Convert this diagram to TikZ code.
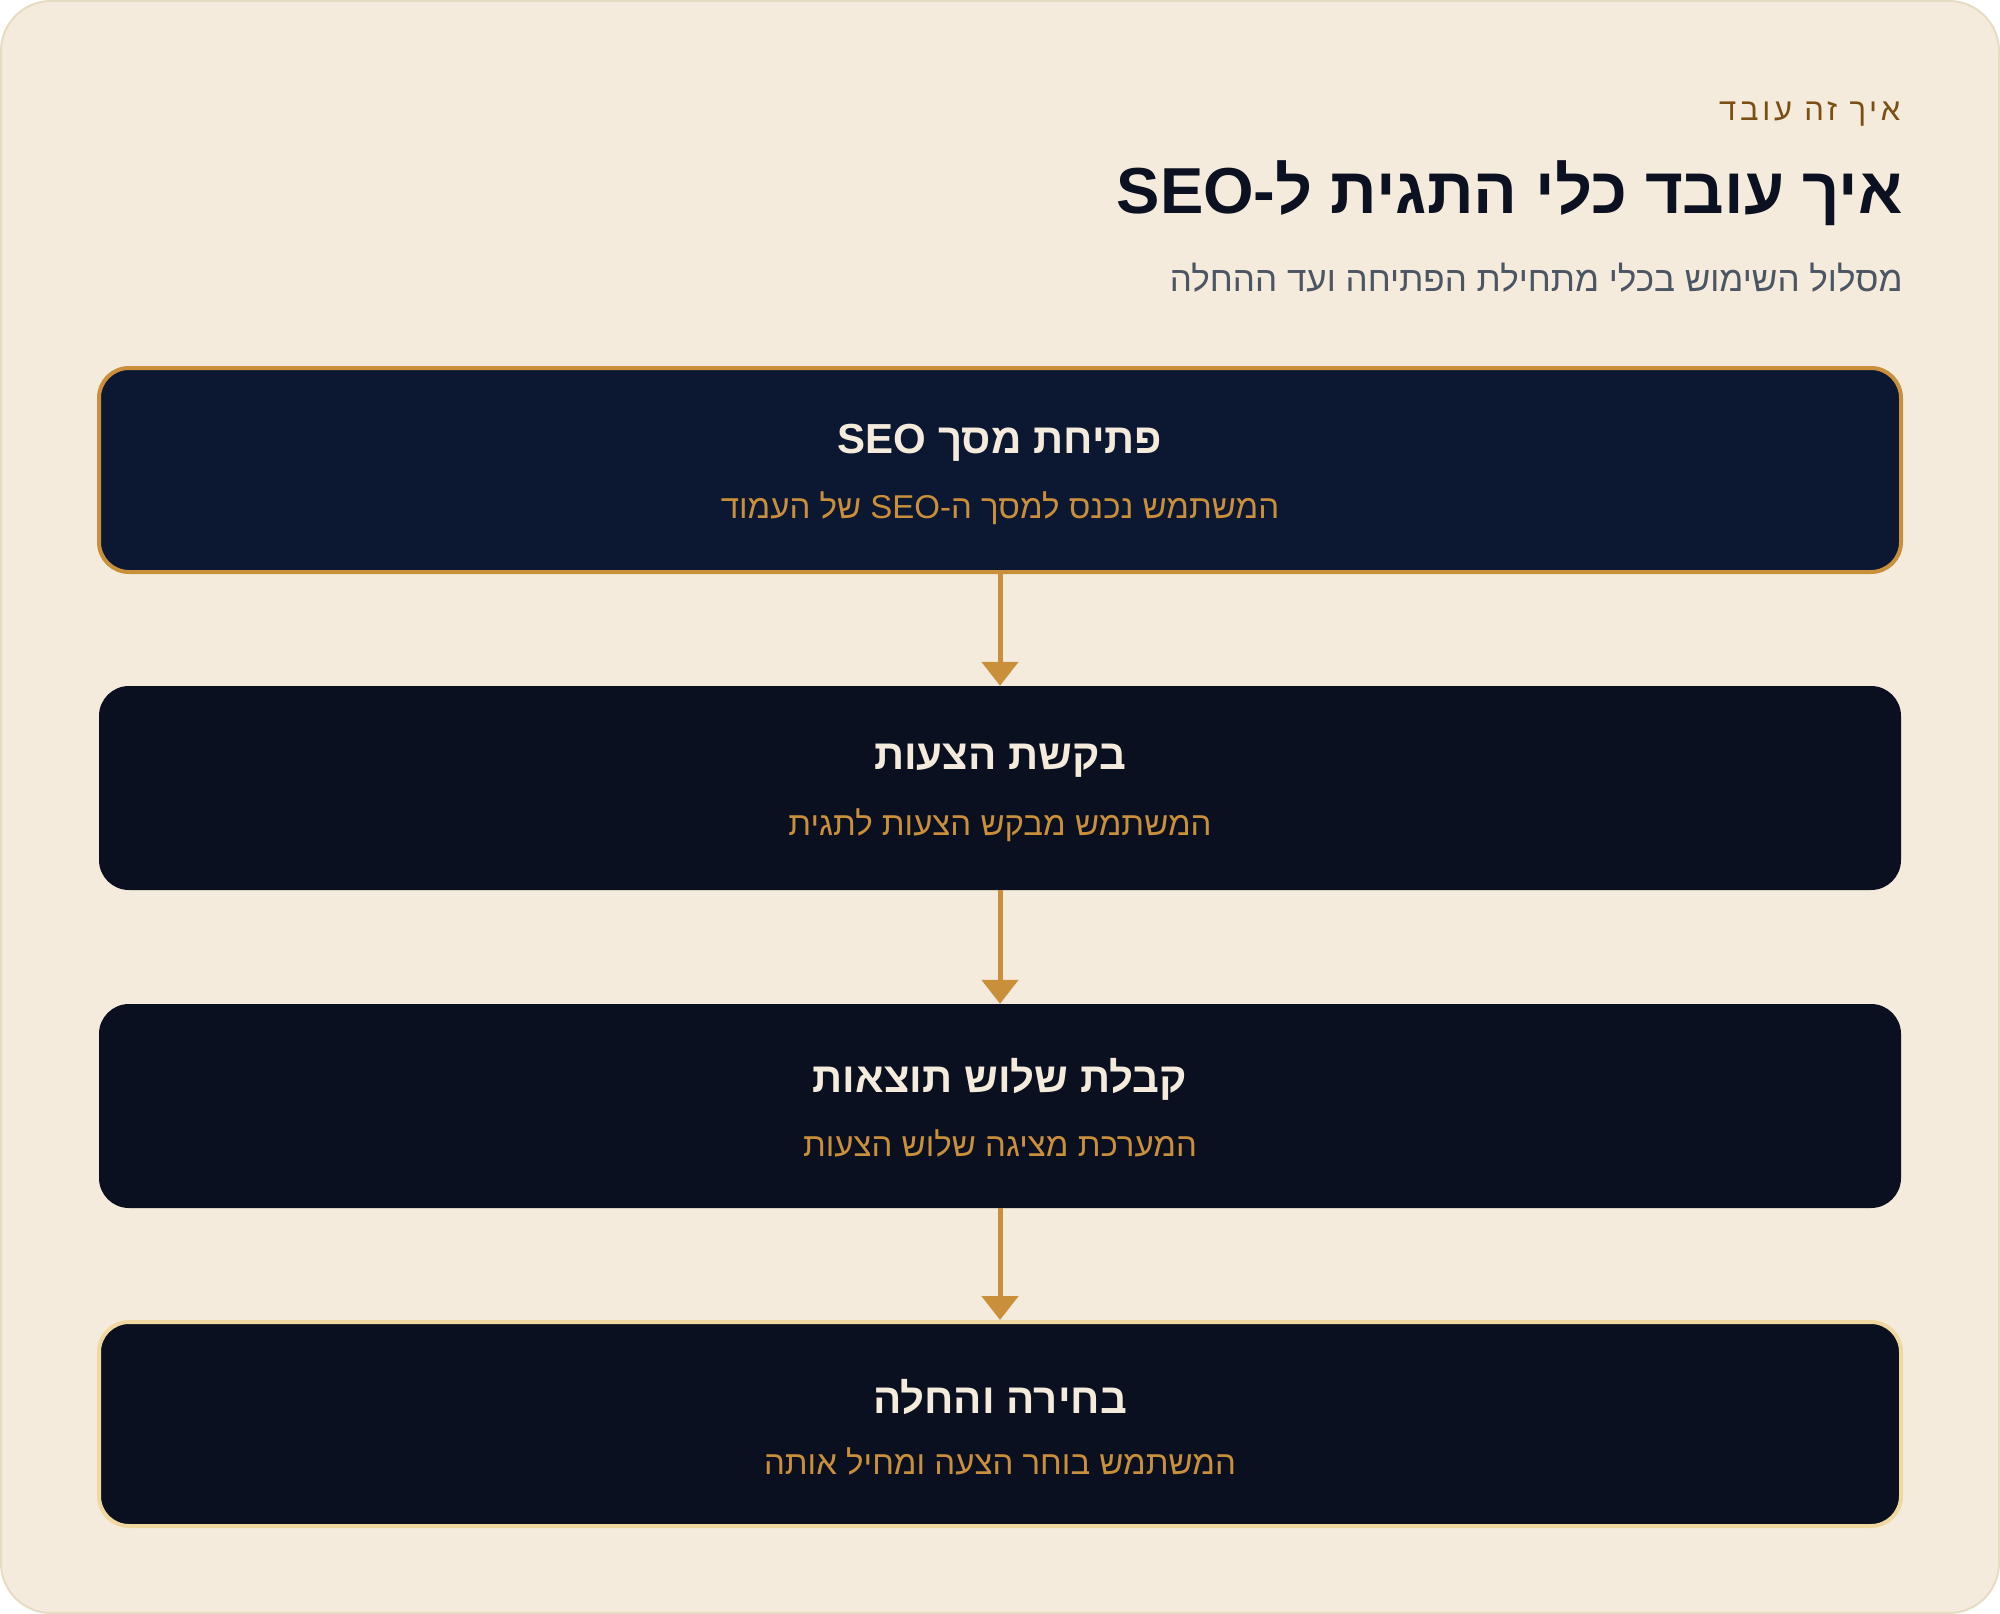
\documentclass[tikz,border=0pt]{standalone}
\usepackage{fontspec}
\usetikzlibrary{arrows.meta}
\TeXXeTstate=1
\newfontfamily\hebfont[Script=Hebrew]{Liberation Sans}
\newfontfamily\hebspaced[Script=Hebrew,LetterSpace=12]{Liberation Sans}

\definecolor{paper}{HTML}{F4EBDC}
\definecolor{paperline}{HTML}{E6DCC4}
\definecolor{ink}{HTML}{0B1120}
\definecolor{muted}{HTML}{4B5563}
\definecolor{brownish}{HTML}{7A4F14}
\definecolor{gold}{HTML}{C98F3A}
\definecolor{palegold}{HTML}{F0D8A0}
\definecolor{cream}{HTML}{F4EBDC}
\definecolor{navyfirst}{HTML}{0C1732}
\definecolor{navy}{HTML}{0A1020}

\begin{document}
\begin{tikzpicture}[x=1pt, y=-1pt,
    stepbox/.style={rounded corners=30pt, minimum width=1802pt,
      minimum height=204pt, inner sep=0pt, fill=navy},
    steptitle/.style={text=cream, font=\hebfont\bfseries\fontsize{42}{46}\selectfont},
    stepnote/.style={text=gold, font=\hebfont\fontsize{33}{37}\selectfont},
    flow/.style={draw=gold, line width=5pt, -{Triangle[width=36pt,length=24pt]}}]
    \useasboundingbox (0,0) rectangle (2000,1614);
    \draw[fill=paper, draw=paperline, line width=2pt, rounded corners=50pt]
      (1,1) rectangle (1999,1613);

    % heading
    \node[anchor=east, text=brownish, font=\hebspaced\fontsize{31}{34}\selectfont]
      (eyebrow) at (1904,114) {\beginR איך זה עובד\endR};
    \node[anchor=east, text=ink, font=\hebfont\bfseries\fontsize{65}{70}\selectfont]
      (headline) at (1906,193) {\beginR איך עובד כלי התגית ל-\beginL SEO\endL\endR};
    \node[anchor=east, text=muted, font=\hebfont\fontsize{35}{39}\selectfont]
      (subline) at (1906,278) {\beginR מסלול השימוש בכלי מתחילת הפתיחה ועד ההחלה\endR};

    % steps
    \node[stepbox, fill=navyfirst, draw=gold, line width=4pt] (open) at (1000,470) {};
    \node[steptitle] (openT) at (1000,443) {\beginR פתיחת מסך \beginL SEO\endL\endR};
    \node[stepnote] (openN) at (1000,508) {\beginR המשתמש נכנס למסך ה-\beginL SEO\endL{} של העמוד\endR};

    \node[stepbox] (ask) at (1000,788) {};
    \node[steptitle] (askT) at (1000,761) {\beginR בקשת הצעות\endR};
    \node[stepnote] (askN) at (1000,825) {\beginR המשתמש מבקש הצעות לתגית\endR};

    \node[stepbox] (three) at (1000,1106) {};
    \node[steptitle] (threeT) at (1000,1079) {\beginR קבלת שלוש תוצאות\endR};
    \node[stepnote] (threeN) at (1000,1143) {\beginR המערכת מציגה שלוש הצעות\endR};

    \node[stepbox, draw=palegold, line width=4pt] (pick) at (1000,1424) {};
    \node[steptitle] (pickT) at (1000,1397) {\beginR בחירה והחלה\endR};
    \node[stepnote] (pickN) at (1000,1461) {\beginR המשתמש בוחר הצעה ומחיל אותה\endR};

    % arrows
    \draw[flow] (open.south) -- (ask.north);
    \draw[flow] (ask.south) -- (three.north);
    \draw[flow] (three.south) -- (pick.north);
\end{tikzpicture}
\end{document}
